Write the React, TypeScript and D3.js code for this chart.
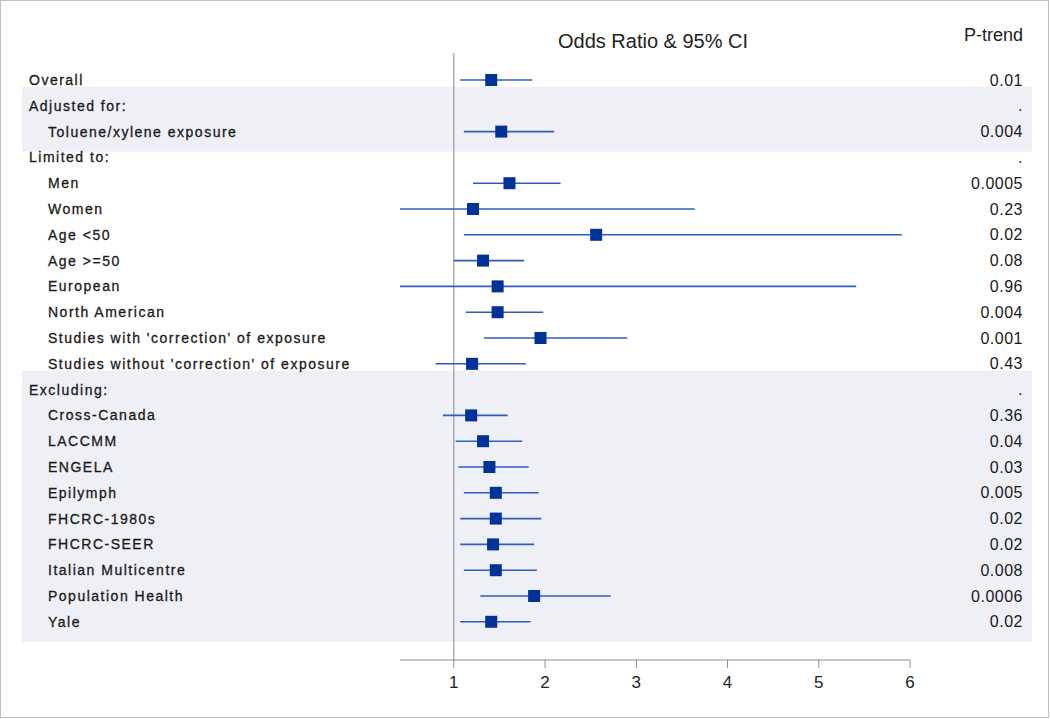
import React from "react";
import * as d3 from "d3";

const labels = [
  "Overall", "Adjusted for:", "Toluene/xylene exposure", "Limited to:", "Men", "Women",
  "Age <50", "Age >=50", "European", "North American",
  "Studies with 'correction' of exposure", "Studies without 'correction' of exposure",
  "Excluding:", "Cross-Canada", "LACCMM", "ENGELA", "Epilymph", "FHCRC-1980s",
  "FHCRC-SEER", "Italian Multicentre", "Population Health", "Yale",
];
const indented = [false, false, true, false, true, true, true, true, true, true, true, true, false, true, true, true, true, true, true, true, true, true];
const oddsRatio = [1.41, null, 1.52, null, 1.61, 1.21, 2.56, 1.32, 1.48, 1.48, 1.95, 1.20, null, 1.19, 1.32, 1.39, 1.46, 1.46, 1.43, 1.46, 1.88, 1.41];
const lowerCI = [1.07, null, 1.11, null, 1.21, 0.41, 1.11, 1.0, 0.41, 1.13, 1.33, 0.80, null, 0.88, 1.02, 1.05, 1.11, 1.07, 1.07, 1.11, 1.29, 1.07];
const upperCI = [1.86, null, 2.10, null, 2.17, 3.64, 5.91, 1.77, 5.41, 1.98, 2.90, 1.79, null, 1.59, 1.75, 1.82, 1.93, 1.96, 1.88, 1.91, 2.72, 1.84];
const pTrend = ["0.01", ".", "0.004", ".", "0.0005", "0.23", "0.02", "0.08", "0.96", "0.004", "0.001", "0.43", ".", "0.36", "0.04", "0.03", "0.005", "0.02", "0.02", "0.008", "0.0006", "0.02"];
const shadedGroups = [[1, 2], [12, 21]];
const xTicks = [1, 2, 3, 4, 5, 6];

export default function App() {
  const W = 1050, H = 719;
  const x = d3.scaleLinear().domain([0.41, 6]).range([400, 910]);
  const y = d3.scaleLinear().domain([0, 21]).range([80, 621.8]);
  const font = "'Liberation Sans', Arial, sans-serif";
  const axisY = 660;
  return (
    <svg width={W} height={H} style={{ position: "absolute", left: 0, top: 0, background: "#fff" }}>
      <rect x={0.5} y={0.5} width={W - 2} height={H - 2} fill="#fff" stroke="#c0c0c0" />
      {shadedGroups.map(([a, b], i) => (
        <rect key={i} x={22} y={y(a) - 19} width={1032 - 22} height={y(b) - y(a) + 39} fill="#efeff6" />
      ))}
      <line x1={x(1)} x2={x(1)} y1={53} y2={axisY} stroke="#8a8a8a" strokeWidth={1} />
      <line x1={x(0.41)} x2={x(6)} y1={axisY} y2={axisY} stroke="#8a8a8a" strokeWidth={1} />
      {xTicks.map((t) => (
        <g key={t}>
          <line x1={x(t)} x2={x(t)} y1={axisY} y2={axisY + 8} stroke="#8a8a8a" />
          <text x={x(t)} y={axisY + 28} textAnchor="middle" fontFamily={font} fontSize={17} fill="#222">{t}</text>
        </g>
      ))}
      <text x={653} y={48} textAnchor="middle" fontFamily={font} fontSize={20} fill="#222">Odds Ratio &amp; 95% CI</text>
      <text x={1023} y={41} textAnchor="end" fontFamily={font} fontSize={18} fill="#222">P-trend</text>
      {labels.map((l, i) => (
        <text key={l} x={indented[i] ? 48 : 29} y={y(i)} dy="0.35em" fontFamily={font} fontSize={14} letterSpacing={1.5} fill="#1a1a1a" stroke="#1a1a1a" strokeWidth={0.3}>{l}</text>
      ))}
      {pTrend.map((p, i) => (
        <text key={i} x={1023} y={y(i)} dy="0.35em" textAnchor="end" fontFamily={font} fontSize={16} letterSpacing={0.5} fill="#1a1a1a">{p}</text>
      ))}
      {oddsRatio.map((o, i) =>
        o == null ? null : (
          <g key={i}>
            <line x1={x(lowerCI[i] as number)} x2={x(upperCI[i] as number)} y1={y(i)} y2={y(i)} stroke="#2f5cbf" strokeWidth={1.6} />
            <rect x={x(o) - 6} y={y(i) - 6} width={12} height={12} fill="#003399" />
          </g>
        )
      )}
    </svg>
  );
}
